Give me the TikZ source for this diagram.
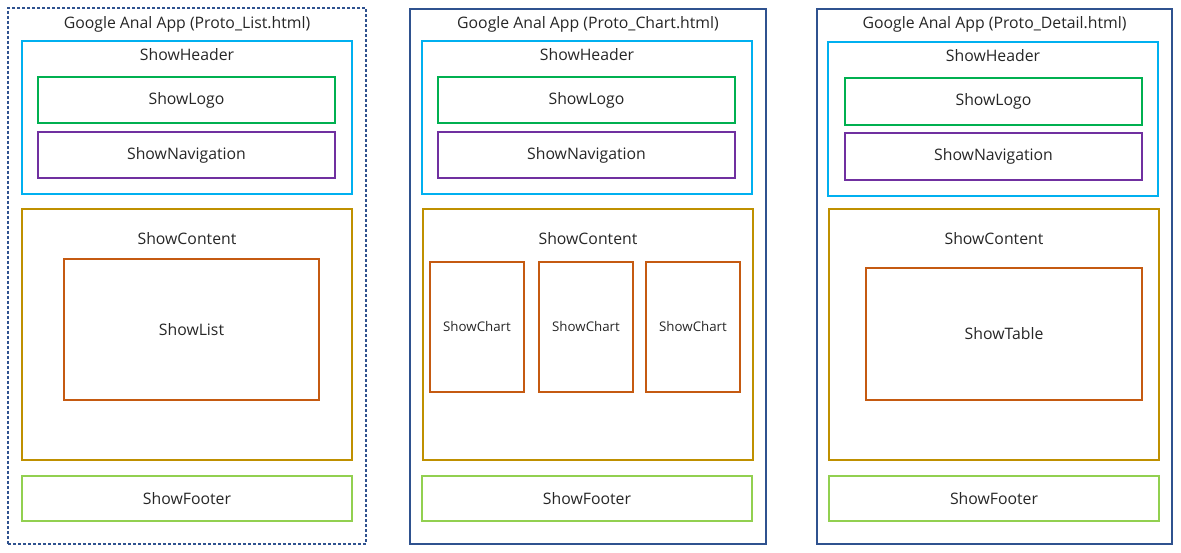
\documentclass[tikz,border=0pt]{standalone}
\usepackage{fontspec}
\setmainfont{Open Sans}
\usetikzlibrary{positioning,fit}
\definecolor{appblue}{RGB}{47,82,143}
\definecolor{headcyan}{RGB}{0,176,240}
\definecolor{logogreen}{RGB}{0,176,80}
\definecolor{navpurple}{RGB}{112,48,160}
\definecolor{contgold}{RGB}{191,144,0}
\definecolor{partorange}{RGB}{197,90,17}
\definecolor{footgreen}{RGB}{146,208,80}

\begin{document}
\begin{tikzpicture}[x=1pt, y=-1pt, every node/.style={font=\fontsize{15.8}{19}\selectfont, text=black!85},
    box/.style={draw, line width=1.8pt, inner sep=0pt},
    small/.style={font=\fontsize{13.3}{16}\selectfont}]
    \useasboundingbox (0,0) rectangle (1181,553);
    % Proto_List
    \node[box, draw=appblue, line width=1.8pt, densely dashed, fit={(8,8) (366,544)}] (appA) {};
    \node[below=6pt of appA.north] (titleA) {Google Anal App (Proto\_List.html)};
    \node[box, draw=headcyan, fit={(22,41) (352,194)}] (headA) {};
    \node[below=5pt of headA.north] (headtA) {ShowHeader};
    \node[box, draw=logogreen, fit={(38,77) (335,123)}, label=center:ShowLogo] (logoA) {};
    \node[box, draw=navpurple, fit={(38,132) (335,178)}, label=center:ShowNavigation] (navA) {};
    \node[box, draw=contgold, fit={(22,209) (352,460)}] (contA) {};
    \node[below=21pt of contA.north] (conttA) {ShowContent};
    \node[box, draw=partorange, fit={(64,259) (319,400)}, label=center:ShowList] (listA) {};
    \node[box, draw=footgreen, fit={(22,476) (352,521)}, label=center:ShowFooter] (footA) {};
    % Proto_Chart
    \node[box, draw=appblue, fit={(410,9) (766,544)}] (appB) {};
    \node[below=5pt of appB.north] (titleB) {Google Anal App (Proto\_Chart.html)};
    \node[box, draw=headcyan, fit={(422,41) (752,194)}] (headB) {};
    \node[below=5pt of headB.north] (headtB) {ShowHeader};
    \node[box, draw=logogreen, fit={(438,77) (735,123)}, label=center:ShowLogo] (logoB) {};
    \node[box, draw=navpurple, fit={(438,132) (735,178)}, label=center:ShowNavigation] (navB) {};
    \node[box, draw=contgold, fit={(423,209) (753,460)}] (contB) {};
    \node[below=21pt of contB.north] (conttB) {ShowContent};
    \node[box, draw=partorange, fit={(430,262) (524,392)}, label={[small]center:ShowChart}] (chartB1) {};
    \node[box, draw=partorange, fit={(539,262) (633,392)}, label={[small]center:ShowChart}] (chartB2) {};
    \node[box, draw=partorange, fit={(646,262) (740,392)}, label={[small]center:ShowChart}] (chartB3) {};
    \node[box, draw=footgreen, fit={(422,476) (752,521)}, label=center:ShowFooter] (footB) {};
    % Proto_Detail
    \node[box, draw=appblue, fit={(817,9) (1172,544)}] (appC) {};
    \node[below=5pt of appC.north] (titleC) {Google Anal App (Proto\_Detail.html)};
    \node[box, draw=headcyan, fit={(828,42) (1158,196)}] (headC) {};
    \node[below=5pt of headC.north] (headtC) {ShowHeader};
    \node[box, draw=logogreen, fit={(845,78) (1142,125)}, label=center:ShowLogo] (logoC) {};
    \node[box, draw=navpurple, fit={(845,133) (1142,180)}, label=center:ShowNavigation] (navC) {};
    \node[box, draw=contgold, fit={(829,209) (1159,460)}] (contC) {};
    \node[below=21pt of contC.north] (conttC) {ShowContent};
    \node[box, draw=partorange, fit={(866,268) (1142,400)}, label=center:ShowTable] (tableC) {};
    \node[box, draw=footgreen, fit={(829,476) (1159,521)}, label=center:ShowFooter] (footC) {};
\end{tikzpicture}
\end{document}
